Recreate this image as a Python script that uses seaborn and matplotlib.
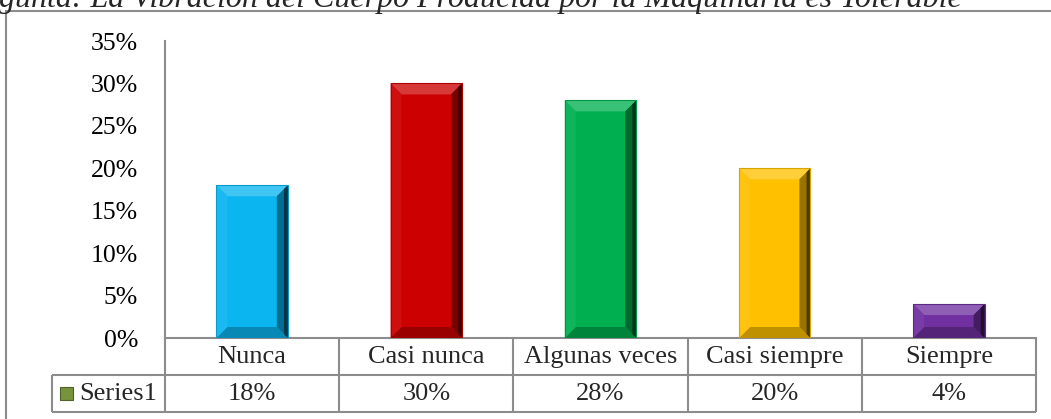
import matplotlib
matplotlib.use("Agg")
import matplotlib.pyplot as plt
import seaborn as sns
import pandas as pd
import numpy as np
from matplotlib.patches import Polygon, Rectangle
from matplotlib.colors import to_rgb

categories = ["Nunca", "Casi nunca", "Algunas veces", "Casi siempre", "Siempre"]
values = [0.18, 0.30, 0.28, 0.20, 0.04]
colors = ["#0BB5F0", "#CC0000", "#00B050", "#FFC000", "#7030A0"]
yticks = [0.0, 0.05, 0.10, 0.15, 0.20, 0.25, 0.30, 0.35]
series_name = "Series1"
title = "gunta: La Vibración del Cuerpo Producida por la Maquinaria es Tolerable"

sns.set_theme(style="white")
plt.rcParams['font.family'] = ['Liberation Serif', 'DejaVu Serif']

W, H = 1051, 419
fig = plt.figure(figsize=(W / 100, H / 100), dpi=100)
fig.patch.set_facecolor("white")


def fx(px):
    return px / W


def fy(py):
    return 1 - py / H


GRAY = "#8c8c8c"
LW = 1.5
FS = 19
FS_TICK = 18.5

ax = fig.add_axes([fx(165), fy(338), fx(1036) - fx(165), fy(41) - fy(338)])
df = pd.DataFrame({"cat": categories, "val": values})
sns.barplot(data=df, x="cat", y="val", hue="cat", palette=colors, legend=False,
            width=0.41, ax=ax, saturation=1, edgecolor="none")
ax.set_xlim(-0.5, 4.5)
ax.set_ylim(0, 0.35)
ax.set_xlabel("")
ax.set_ylabel("")
ax.set_xticks([])
ax.set_yticks(yticks)
ax.set_yticklabels([f"{int(round(v * 100))}%" for v in yticks], fontsize=FS_TICK, color="black")
ax.tick_params(axis="y", length=0, pad=19.4)
for s in ["top", "right"]:
    ax.spines[s].set_visible(False)
for s in ["left", "bottom"]:
    ax.spines[s].set_color(GRAY)
    ax.spines[s].set_linewidth(LW)
ax.grid(False)
ax.set_facecolor("none")


def mix(c, t, amt):
    c = np.array(to_rgb(c))
    t = np.array(to_rgb(t))
    return tuple(c * (1 - amt) + t * amt)


# bevel shading on each drawn bar
dx = 11 / 174.2
dy = 11 * 0.35 / 297
for p, col in zip(ax.patches, colors):
    x0 = p.get_x()
    w = p.get_width()
    h = p.get_height()
    x1 = x0 + w
    d = min(dy, h / 3)
    faces = [
        ([(x0, h), (x1, h), (x1 - dx, h - d), (x0 + dx, h - d)], mix(col, "white", 0.22)),
        ([(x0, 0), (x1, 0), (x1 - dx, d), (x0 + dx, d)], mix(col, "black", 0.25)),
        ([(x0, 0), (x0, h), (x0 + dx, h - d), (x0 + dx, d)], mix(col, "white", 0.06)),
        ([(x1, 0), (x1, h), (x1 - dx, h - d), (x1 - dx, d)], mix(col, "black", 0.4)),
    ]
    for pts, fc in faces:
        ax.add_patch(Polygon(pts, closed=True, facecolor=fc, edgecolor="none", zorder=3))
    # darker outer strip on right side
    ax.add_patch(Polygon([(x1 - dx * 0.35, d * 0.35), (x1, 0), (x1, h), (x1 - dx * 0.35, h - d * 0.35)],
                         closed=True, facecolor=mix(col, "black", 0.7), edgecolor="none", zorder=3))
    ax.add_patch(Rectangle((x0, 0), w, h, fill=False, edgecolor=mix(col, "black", 0.15), lw=0.8, zorder=4))

# data table below axis
tr = ax.get_xaxis_transform()
rh = 37 / 297
xleg = -0.5 - 113 / 174.2
kw = dict(color=GRAY, lw=LW, transform=tr, clip_on=False, solid_capstyle="butt")
ax.plot([-0.5, 4.5], [-rh, -rh], **kw)
ax.plot([xleg, -0.5], [-rh, -rh], **kw)
ax.plot([xleg, 4.5], [-2 * rh, -2 * rh], **kw)
for xb in [-0.5, 0.5, 1.5, 2.5, 3.5, 4.5]:
    ax.plot([xb, xb], [0, -2 * rh], **kw)
ax.plot([xleg, xleg], [-rh, -2 * rh], **kw)

for i, (c, v) in enumerate(zip(categories, values)):
    ax.text(i, -0.5 * rh, c, transform=tr, ha="center", va="center", fontsize=FS, clip_on=False)
    ax.text(i, -1.5 * rh, f"{int(round(v * 100))}%", transform=tr, ha="center", va="center",
            fontsize=FS, clip_on=False)

# legend key in table
fig.add_artist(Rectangle((fx(60), fy(400)), fx(13), 13 / H, transform=fig.transFigure,
                         facecolor="#77933C", edgecolor="#4F6228", lw=0.8))
fig.text(fx(79), fy(393.5), series_name, ha="left", va="center", fontsize=FS)

# outer frame
fig.add_artist(Rectangle((fx(6), -0.1), 1.2, fy(11) + 0.1, transform=fig.transFigure,
                         fill=False, edgecolor=GRAY, lw=1.5))

# title (clipped at top)
fig.text(fx(-1), fy(7), title, ha="left", va="baseline", fontsize=23, style="italic",
         family=["Liberation Serif", "DejaVu Serif"])

fig.savefig("out.png", dpi=100)
